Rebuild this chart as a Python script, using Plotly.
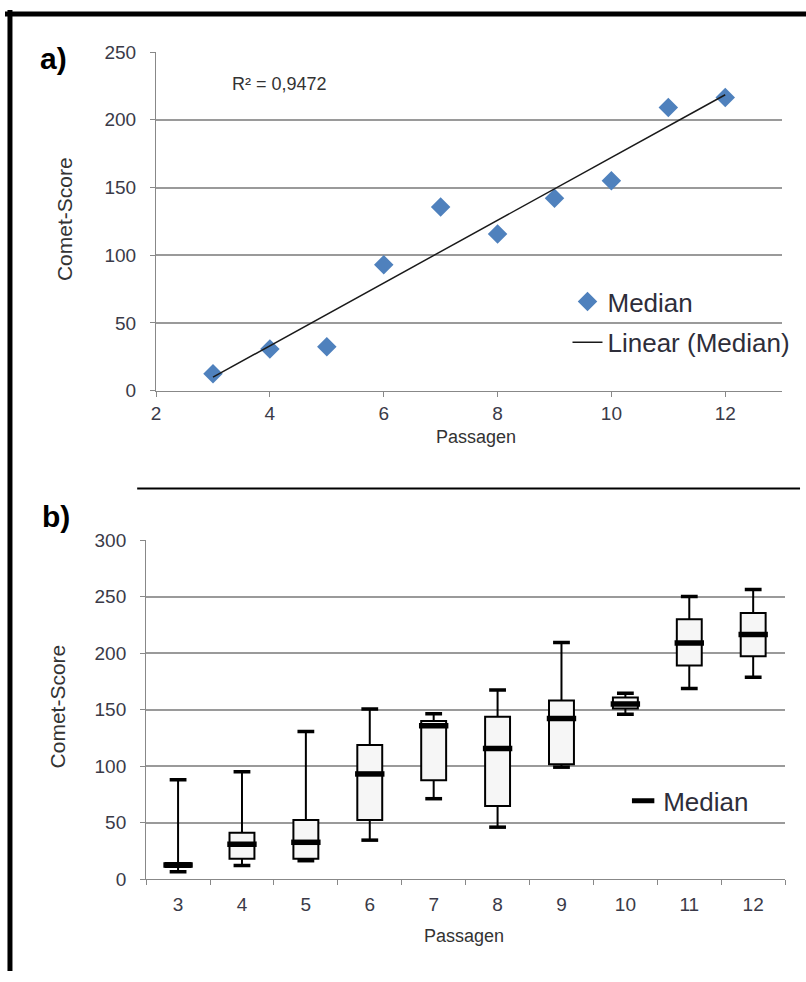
import numpy as np
import plotly.graph_objects as go

# ---------------- data ----------------
passages = [3, 4, 5, 6, 7, 8, 9, 10, 11, 12]
median_vals = [12.5, 30.8, 32.5, 93.0, 135.6, 115.6, 142.0, 155.0, 209.0, 216.5]
q1_vals = [10.7, 17.9, 17.9, 52.3, 87.5, 64.7, 101.7, 151.0, 188.9, 197.3]
q3_vals = [14.1, 41.0, 52.3, 118.7, 139.8, 143.6, 158.0, 160.6, 229.9, 235.5]
lower_vals = [6.4, 11.9, 16.2, 34.4, 71.1, 45.9, 99.0, 145.9, 168.7, 178.5]
upper_vals = [87.8, 95.0, 130.6, 150.5, 146.2, 167.3, 209.4, 164.4, 250.2, 256.3]
r2_label = "R\u00b2 = 0,9472"
x_title = "Passagen"
y_title = "Comet-Score"

cats = [str(p) for p in passages]

W, H = 806, 982
def px(x):
    return x / W
def py(y):
    return 1 - y / H

FONT = "Liberation Sans, Arial, sans-serif"
TICKC = "#3a3a48"
TXTC = "#333333"
GRID = "#9a9a9a"
AXC = "#888888"

fig = go.Figure()

# ---------- panel a ----------
fig.add_trace(go.Scatter(
    x=passages, y=median_vals, mode="markers", name="Median",
    marker=dict(symbol="diamond", size=15, color="#4f81bd"),
    xaxis="x", yaxis="y", legend="legend", legendgroup="a1",
))
coef = np.polyfit(passages, median_vals, 1)
tx = [min(passages), max(passages)]
ty = [coef[0] * v + coef[1] for v in tx]
fig.add_trace(go.Scatter(
    x=tx, y=ty, mode="lines", name="Linear (Median)",
    line=dict(color="#1a1a1a", width=1.5),
    xaxis="x", yaxis="y", legend="legend", legendgroup="a2",
))

# ---------- panel b ----------
fig.add_trace(go.Box(
    x=cats, q1=q1_vals, median=median_vals, q3=q3_vals,
    lowerfence=lower_vals, upperfence=upper_vals,
    width=0.39, whiskerwidth=0,
    line=dict(color="black", width=2), fillcolor="#f6f6f6",
    showlegend=False, hoverinfo="skip",
    xaxis="x2", yaxis="y2",
))
for arr in (upper_vals, lower_vals):
    fig.add_trace(go.Scatter(
        x=cats, y=arr, mode="markers", showlegend=False,
        marker=dict(symbol="line-ew", size=12, line=dict(color="black", width=3.5)),
        xaxis="x2", yaxis="y2", hoverinfo="skip",
    ))
fig.add_trace(go.Scatter(
    x=cats, y=median_vals, mode="markers", name="Median",
    marker=dict(symbol="line-ew", size=21, line=dict(color="black", width=5.5)),
    xaxis="x2", yaxis="y2", legend="legend2",
))

axis_common = dict(
    showline=True, linecolor=AXC, linewidth=1.2,
    ticks="outside", ticklen=5, tickcolor=AXC, tickwidth=1.2,
    tickfont=dict(family=FONT, size=19, color=TICKC),
    zeroline=False, fixedrange=True,
)

fig.update_layout(
    width=W, height=H,
    margin=dict(l=0, r=0, t=0, b=0),
    paper_bgcolor="white", plot_bgcolor="white",
    font=dict(family=FONT, color=TXTC),
    xaxis=dict(domain=[px(152), px(782)], range=[2, 13], tickvals=[2, 4, 6, 8, 10, 12],
               showgrid=False, anchor="y", ticklabelstandoff=0, **axis_common),
    yaxis=dict(domain=[py(389), py(43)], range=[0, 250], tickvals=[0, 50, 100, 150, 200, 250],
               showgrid=True, gridcolor=GRID, gridwidth=1.5, anchor="x",
               ticklabelstandoff=10, **axis_common),
    xaxis2=dict(domain=[px(142), px(785)], type="category", range=[-0.5, 9.5],
                tickson="boundaries", showgrid=False, anchor="y2",
                ticklabelstandoff=8, **axis_common),
    yaxis2=dict(domain=[py(888), py(541.7)], range=[0, 300],
                tickvals=[0, 50, 100, 150, 200, 250, 300],
                showgrid=True, gridcolor=GRID, gridwidth=1.5, anchor="x2",
                ticklabelstandoff=10, **axis_common),
    legend=dict(x=px(566), y=py(274), xanchor="left", yanchor="top",
                bgcolor="rgba(0,0,0,0)", font=dict(family=FONT, size=26, color="#2e2e3a"),
                tracegroupgap=4, traceorder="grouped", itemwidth=30),
    legend2=dict(x=px(622), y=py(784), xanchor="left", yanchor="top",
                 bgcolor="rgba(0,0,0,0)", font=dict(family=FONT, size=26, color="#2e2e3a"),
                 itemwidth=30),
    showlegend=True,
)

annotations = [
    dict(text="<b>a)</b>", x=px(49), y=py(50), font=dict(family=FONT, size=30, color="black")),
    dict(text="<b>b)</b>", x=px(51), y=py(518), font=dict(family=FONT, size=30, color="black")),
    dict(text=r2_label, x=px(276), y=py(76), font=dict(family=FONT, size=18, color=TXTC)),
    dict(text=y_title, x=px(60), y=py(214), textangle=-90, font=dict(family=FONT, size=21, color=TXTC)),
    dict(text=x_title, x=px(474), y=py(436), font=dict(family=FONT, size=18, color=TXTC)),
    dict(text=y_title, x=px(53), y=py(712), textangle=-90, font=dict(family=FONT, size=21, color=TXTC)),
    dict(text=x_title, x=px(462), y=py(946), font=dict(family=FONT, size=18, color=TXTC)),
]
for a in annotations:
    a.update(xref="paper", yref="paper", showarrow=False, xanchor="center", yanchor="middle")
fig.update_layout(annotations=annotations)

shapes = [
    dict(type="line", x0=0, x1=1, y0=py(4), y1=py(4), line=dict(color="black", width=5)),
    dict(type="line", x0=px(5), x1=px(5), y0=0, y1=1, line=dict(color="black", width=5)),
    dict(type="line", x0=px(133), x1=px(800), y0=py(489), y1=py(489), line=dict(color="black", width=2)),
]
for s in shapes:
    s.update(xref="paper", yref="paper")
fig.update_layout(shapes=shapes)

fig.write_html("out.html", config={"displayModeBar": False},
               post_script="document.body.style.margin='0px';")
